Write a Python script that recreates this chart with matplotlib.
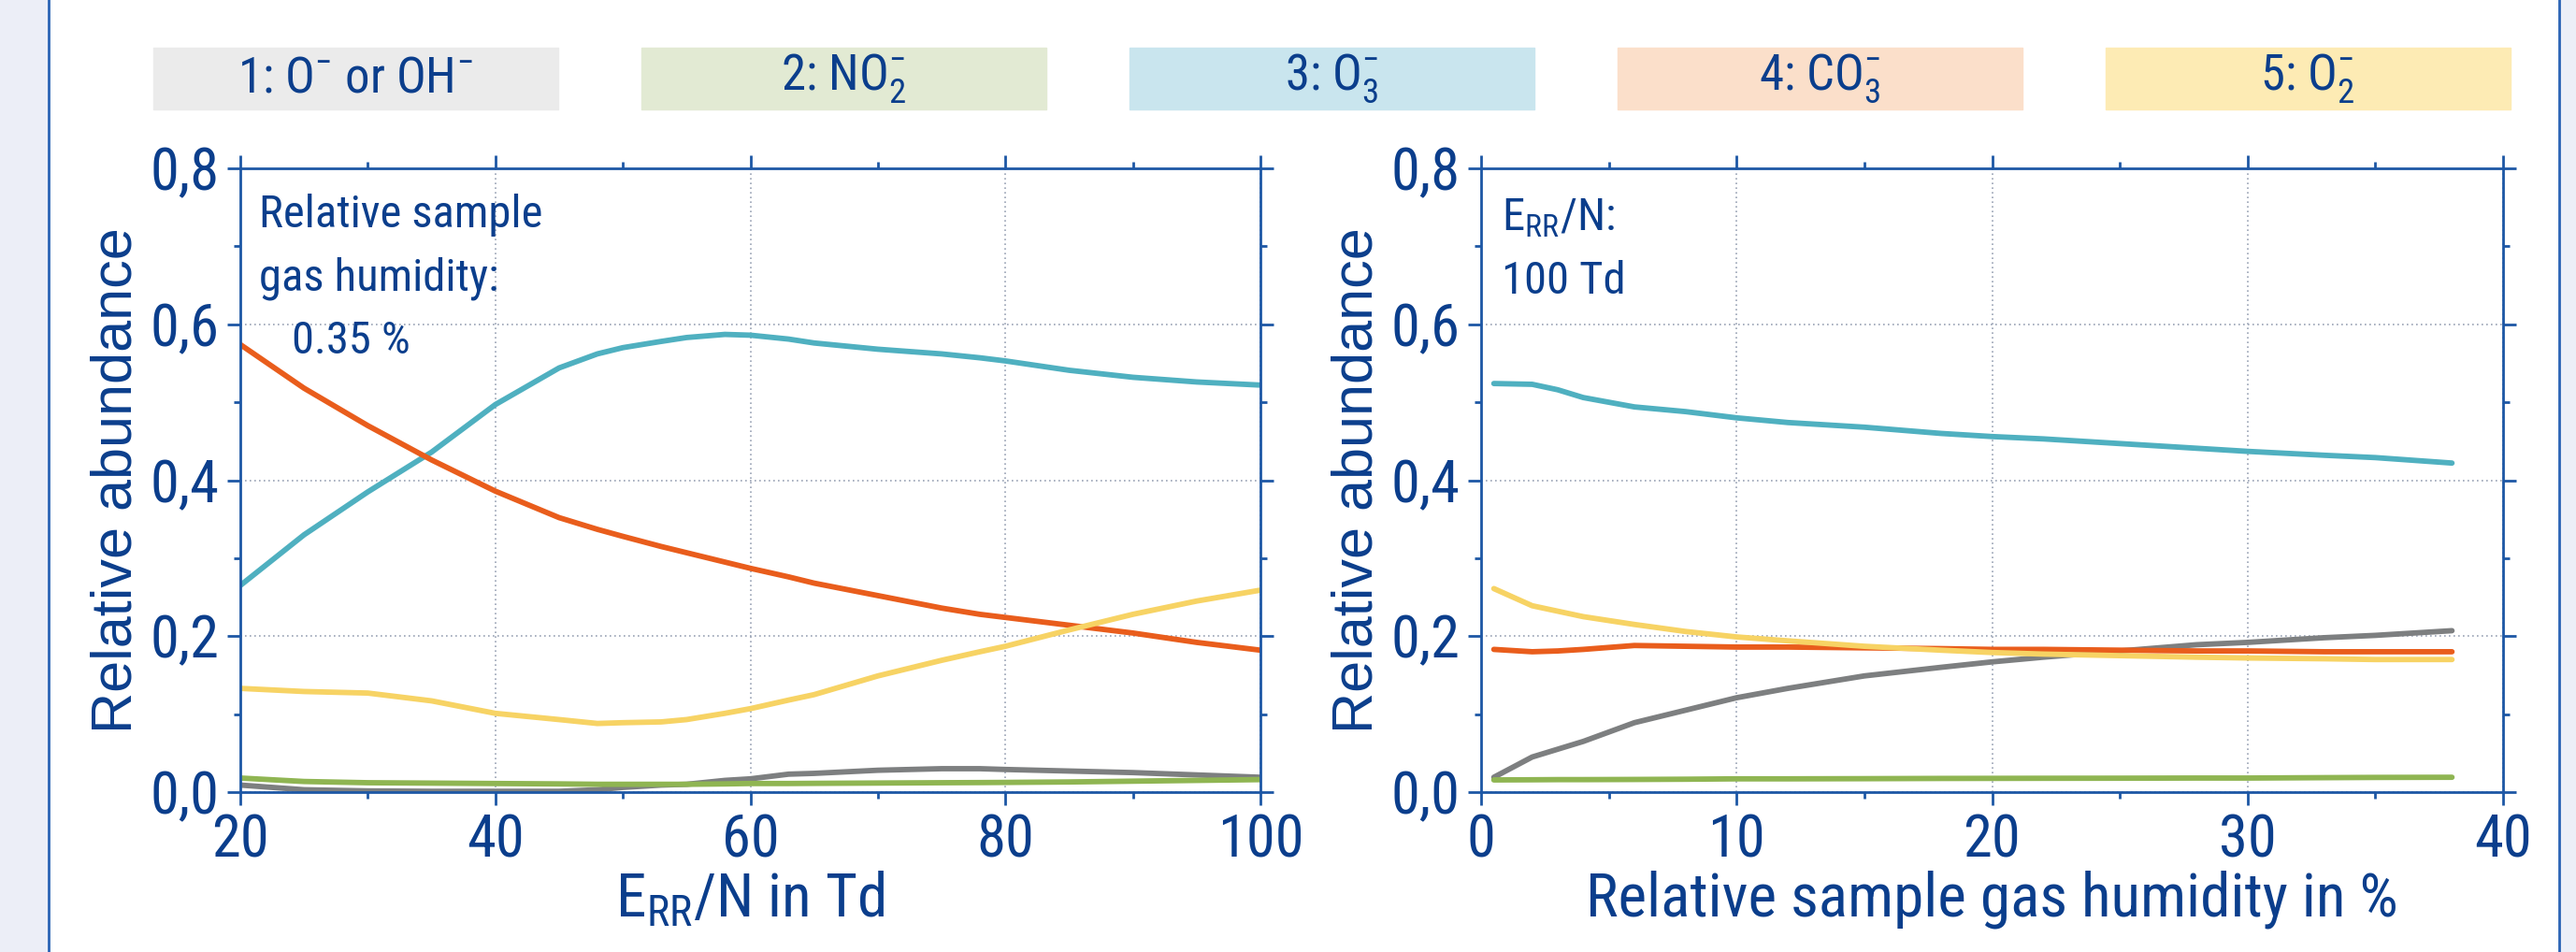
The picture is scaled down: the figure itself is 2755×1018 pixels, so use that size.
import matplotlib
matplotlib.use("Agg")
import matplotlib.pyplot as plt
from matplotlib import font_manager
from matplotlib.patches import Rectangle
from matplotlib.lines import Line2D

# --- data ---
species = ["1: O$^{-}$ or OH$^{-}$", "2: NO$_{2}^{-}$", "3: O$_{3}^{-}$",
           "4: CO$_{3}^{-}$", "5: O$_{2}^{-}$"]
line_colors = ["#7d7f80", "#8fb552", "#4fb0c0", "#e95d1c", "#f7d364"]
box_colors = ["#ebebeb", "#e2ead3", "#c9e5ee", "#fbdfca", "#fdebb4"]

# left panel: E_RR/N in Td
err = [20, 25, 30, 35, 40, 45, 48, 50, 53, 55, 58, 60, 63, 65, 70, 75, 78, 80, 85, 90, 95, 100]
left_o = [0.009, 0.003, 0.0015, 0.001, 0.001, 0.001, 0.003, 0.006, 0.009, 0.010, 0.015, 0.017,
          0.023, 0.024, 0.028, 0.030, 0.030, 0.029, 0.027, 0.025, 0.022, 0.019]
left_no2 = [0.018, 0.0136, 0.012, 0.0115, 0.011, 0.0105, 0.010, 0.010, 0.010, 0.010, 0.0105, 0.011,
            0.011, 0.0112, 0.0116, 0.012, 0.0122, 0.0124, 0.013, 0.014, 0.015, 0.016]
left_o3 = [0.265, 0.330, 0.385, 0.436, 0.497, 0.544, 0.562, 0.570, 0.578, 0.583, 0.587, 0.586,
           0.581, 0.576, 0.568, 0.562, 0.557, 0.553, 0.541, 0.532, 0.526, 0.522]
left_co3 = [0.574, 0.518, 0.470, 0.426, 0.386, 0.352, 0.337, 0.328, 0.315, 0.307, 0.295, 0.287,
            0.276, 0.268, 0.252, 0.236, 0.228, 0.224, 0.214, 0.204, 0.192, 0.182]
left_o2 = [0.133, 0.129, 0.127, 0.117, 0.101, 0.093, 0.088, 0.089, 0.090, 0.093, 0.101, 0.107,
           0.118, 0.125, 0.149, 0.169, 0.180, 0.187, 0.208, 0.228, 0.245, 0.259]

# right panel: relative sample gas humidity in %
hum = [0.5, 2, 3, 4, 6, 8, 10, 12, 15, 18, 20, 22, 25, 28, 30, 33, 35, 38]
right_o = [0.019, 0.045, 0.055, 0.065, 0.089, 0.105, 0.121, 0.133, 0.149, 0.160, 0.167, 0.173,
           0.181, 0.189, 0.192, 0.198, 0.201, 0.207]
right_no2 = [0.0156, 0.0158, 0.016, 0.016, 0.0162, 0.0165, 0.017, 0.017, 0.0172, 0.0175, 0.0176,
             0.0177, 0.0178, 0.018, 0.018, 0.0185, 0.0188, 0.019]
right_o3 = [0.524, 0.523, 0.516, 0.506, 0.494, 0.488, 0.480, 0.474, 0.468, 0.460, 0.456, 0.453,
            0.447, 0.441, 0.437, 0.432, 0.429, 0.422]
right_co3 = [0.183, 0.180, 0.181, 0.183, 0.188, 0.187, 0.186, 0.186, 0.185, 0.184, 0.183, 0.183,
             0.182, 0.181, 0.181, 0.180, 0.180, 0.180]
right_o2 = [0.261, 0.239, 0.232, 0.225, 0.215, 0.206, 0.199, 0.194, 0.187, 0.182, 0.179, 0.177,
            0.175, 0.173, 0.172, 0.171, 0.170, 0.170]

yticks = [0.0, 0.2, 0.4, 0.6, 0.8]
ytick_labels = ["0,0", "0,2", "0,4", "0,6", "0,8"]
left_xticks = [20, 40, 60, 80, 100]
right_xticks = [0, 10, 20, 30, 40]

TEXT = "#0b3e8c"
SPINE = "#1d57a5"
GRID = "#9aa3b5"

# a condensed face is closest to the original lettering, if one is installed
names = {f.name for f in font_manager.fontManager.ttflist}
narrow = "Liberation Sans"
for cand in ["Liberation Sans Narrow", "Arial Narrow", "Roboto Condensed",
             "DejaVu Sans Condensed", "Open Sans Condensed", "Noto Sans Condensed"]:
    if cand in names:
        narrow = cand
        break
plt.rcParams["font.family"] = [narrow, "DejaVu Sans"]
plt.rcParams["mathtext.fontset"] = "custom"
plt.rcParams["mathtext.rm"] = narrow
plt.rcParams["mathtext.it"] = narrow
plt.rcParams["mathtext.bf"] = narrow

fig = plt.figure(figsize=(27.55, 10.18), dpi=100)
W, H = 2755, 1018


def fx(px):
    return px / W


def fy(py):
    return 1 - py / H


# side strips and border lines
fig.patches.append(Rectangle((0, 0), fx(52), 1, transform=fig.transFigure,
                             color="#eceef7", zorder=0))
fig.patches.append(Rectangle((fx(2738), 0), 1 - fx(2738), 1, transform=fig.transFigure,
                             color="#eceef7", zorder=0))
for xp in (52, 2737):
    fig.lines.append(Line2D([fx(xp), fx(xp)], [0, 1], transform=fig.transFigure,
                            color="#2a63b5", lw=2))

# colour key boxes
for i, (lab, bc) in enumerate(zip(species, box_colors)):
    x0 = 164 + i * 522
    fig.patches.append(Rectangle((fx(x0), fy(117)), fx(433), fy(51) - fy(117),
                                 transform=fig.transFigure, color=bc, zorder=0))
    fig.text(fx(x0 + 216), fy(84), lab, ha="center", va="center", fontsize=38,
             color=TEXT)


def style(ax, xticks, xminor):
    ax.set_ylim(0, 0.8)
    ax.set_xlim(xticks[0], xticks[-1])
    ax.set_xticks(xticks)
    ax.set_xticks(xminor, minor=True)
    ax.set_yticks(yticks)
    ax.set_yticklabels(ytick_labels)
    ax.set_yticks([0.1, 0.3, 0.5, 0.7], minor=True)
    for s in ax.spines.values():
        s.set_color(SPINE)
        s.set_linewidth(2)
    ax.tick_params(which="both", direction="out", top=True, right=True,
                   colors=SPINE, labelcolor=TEXT, labelsize=45, width=2)
    ax.tick_params(which="major", length=10, pad=6)
    ax.tick_params(which="minor", length=5)
    ax.grid(which="major", linestyle=(0, (1, 2)), color=GRID, linewidth=1.2)
    ax.set_ylabel("Relative abundance", fontsize=44, color=TEXT,
                  family=["Liberation Sans", "DejaVu Sans"])
    ax.yaxis.set_label_coords(-0.095, 0.5)


axl = fig.add_axes([fx(257), fy(847), fx(1348) - fx(257), fy(180) - fy(847)])
axr = fig.add_axes([fx(1584), fy(847), fx(2677) - fx(1584), fy(180) - fy(847)])

style(axl, left_xticks, [30, 50, 70, 90])
style(axr, right_xticks, [5, 15, 25, 35])

for series, c in zip([left_o, left_no2, left_o3, left_co3, left_o2], line_colors):
    axl.plot(err, series, color=c, lw=4.2, solid_capstyle="round")
for series, c in zip([right_o, right_no2, right_o3, right_co3, right_o2], line_colors):
    axr.plot(hum, series, color=c, lw=4.2, solid_capstyle="round")

axl.set_xlabel("E$_{\\mathrm{RR}}$/N in Td", fontsize=47, color=TEXT)
axr.set_xlabel("Relative sample gas humidity in %", fontsize=47, color=TEXT)
for ax in (axl, axr):
    ax.xaxis.set_label_coords(0.5, -0.125)

# annotations inside the panels
fig.text(fx(277), fy(243), "Relative sample", fontsize=35, color=TEXT, va="baseline")
fig.text(fx(277), fy(311), "gas humidity:", fontsize=35, color=TEXT, va="baseline")
fig.text(fx(312), fy(378), "0.35 %", fontsize=35, color=TEXT, va="baseline")
fig.text(fx(1606), fy(246), "E$_{\\mathrm{RR}}$/N:", fontsize=35, color=TEXT, va="baseline")
fig.text(fx(1606), fy(314), "100 Td", fontsize=35, color=TEXT, va="baseline")

fig.savefig("out.png", dpi=100)
